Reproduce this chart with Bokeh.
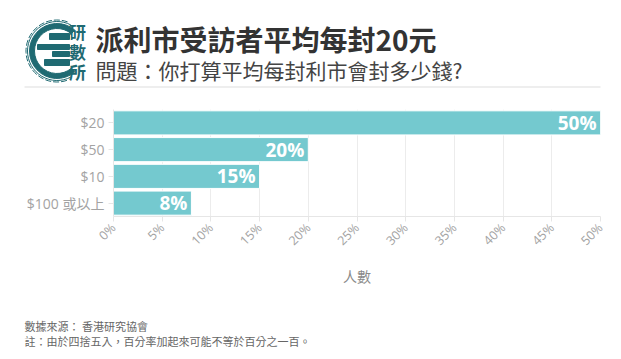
import math
from bokeh.plotting import figure
from bokeh.models import FactorRange, Range1d, FixedTicker, PrintfTickFormatter, ColumnDataSource
from bokeh.layouts import column, row
from bokeh.core.properties import value
from bokeh.embed import file_html
from bokeh.resources import INLINE

# ---- data ----
categories = ["$20", "$50", "$10", "$100 或以上"]
percent = [50, 20, 15, 8]
bar_labels = ["50%", "20%", "15%", "8%"]
x_ticks = [0, 5, 10, 15, 20, 25, 30, 35, 40, 45, 50]

title_text = "派利市受訪者平均每封20元"
subtitle_text = "問題：你打算平均每封利市會封多少錢?"
x_axis_title = "人數"
source_text = "數據來源： 香港研究協會"
note_text = "註：由於四捨五入，百分率加起來可能不等於百分之一百。"
logo_chars = ["研", "數", "所"]

FONT = "'Open Sans', 'Noto Sans CJK TC'"
CJK = "'Noto Sans CJK TC'"
TEAL = "#1f6a72"
W = 621


def blank(h, yr):
    f = figure(width=W, height=h, x_range=Range1d(0, W), y_range=yr,
               output_backend="svg", toolbar_location=None, min_border=0)
    f.axis.visible = False
    f.grid.visible = False
    f.outline_line_color = None
    f.background_fill_color = None
    f.border_fill_color = None
    return f

# ---- header (page y 0..96) ----
HH = 96
header = blank(HH, Range1d(0, HH))   # y grows upward; page_y = 96 - y
header.text(x=[95], y=[96 - 38], text=[title_text], text_font=value(CJK), text_font_style="bold",
            text_font_size="28px", text_color="#333333", text_baseline="middle", text_align="left")
header.text(x=[95], y=[96 - 69], text=[subtitle_text], text_font=value(CJK),
            text_font_size="21px", text_color="#444444", text_baseline="middle", text_align="left")
header.segment(x0=[24], y0=[96 - 86.5], x1=[600], y1=[96 - 86.5], line_color="#dddddd", line_width=1)

# logo (decoration)
cx, cy = 56.5, 96 - 50.5
header.annular_wedge(x=[cx], y=[cy], inner_radius=22.5, outer_radius=27.5,
                     start_angle=math.radians(50), end_angle=math.radians(310),
                     direction="anticlock", color=TEAL)
header.arc(x=[cx], y=[cy], radius=29.5, start_angle=math.radians(62), end_angle=math.radians(298),
           direction="anticlock", line_color=TEAL, line_width=1)
header.arc(x=[cx], y=[cy], radius=31, start_angle=math.radians(70), end_angle=math.radians(290),
           direction="anticlock", line_color=TEAL, line_width=1, line_dash="6 2")
header.quad(left=[49, 37, 52, 44], right=[69, 69, 69, 69],
            top=[96 - 33, 96 - 44, 96 - 51, 96 - 59], bottom=[96 - 39, 96 - 49, 96 - 56, 96 - 65],
            color=TEAL)
header.text(x=[77, 77, 77], y=[96 - 31, 96 - 51, 96 - 71], text=logo_chars, text_font=value(CJK),
            text_font_style="bold", text_font_size="17px", text_color=TEAL,
            text_baseline="middle", text_align="center")

# ---- main chart (page y 96..300) ----
src = ColumnDataSource(dict(cat=categories, pct=percent, lab=bar_labels))
p = figure(width=W, height=204, y_range=FactorRange(*reversed(categories)), x_range=Range1d(0, 50),
           output_backend="svg", toolbar_location=None,
           min_border_left=113, min_border_right=21, min_border_top=13, min_border_bottom=84)
p.outline_line_color = None
p.hbar(y="cat", right="pct", height=0.9, source=src, fill_color="#74c9cf",
       line_color="#ffffff", line_width=1)
p.text(x="pct", y="cat", text="lab", source=src, x_offset=-4, text_align="right",
       text_baseline="middle", text_color="white", text_font_style="bold",
       text_font_size="19px", text_font=value(FONT))

p.xaxis.ticker = FixedTicker(ticks=x_ticks)
p.xaxis.formatter = PrintfTickFormatter(format="%d%%")
p.xaxis.major_label_orientation = math.pi / 4
p.xaxis.axis_label = x_axis_title
p.xaxis.axis_label_text_font = FONT
p.xaxis.axis_label_text_font_style = "normal"
p.xaxis.axis_label_text_font_size = "14px"
p.xaxis.axis_label_text_color = "#8a8a8a"
p.xaxis.axis_label_standoff = 9
p.axis.major_label_text_font = FONT
p.axis.major_label_text_color = "#a3a3a3"
p.xaxis.major_label_text_font_size = "12.5px"
p.yaxis.major_label_text_font_size = "14px"
p.axis.axis_line_color = "#e6e6e6"
p.axis.major_tick_line_color = "#e6e6e6"
p.axis.major_tick_in = 0
p.axis.major_tick_out = 5
p.axis.minor_tick_line_color = None
p.axis.major_label_standoff = 4
p.xgrid.ticker = FixedTicker(ticks=x_ticks)
p.xgrid.grid_line_color = "#ececec"
p.ygrid.grid_line_color = None

# ---- footer (page y 300..359) ----
FH = 59
footer = blank(FH, Range1d(FH, 0))
footer.text(x=[24], y=[25], text=[source_text], text_font=value(CJK), text_font_size="11px",
            text_color="#666666", text_baseline="middle", text_align="left")
footer.text(x=[24], y=[40], text=[note_text], text_font=value(CJK), text_font_size="11px",
            text_color="#666666", text_baseline="middle", text_align="left")

layout = column(row(header), p, row(footer), spacing=0)
open("out.html", "w").write(file_html(layout, INLINE))
